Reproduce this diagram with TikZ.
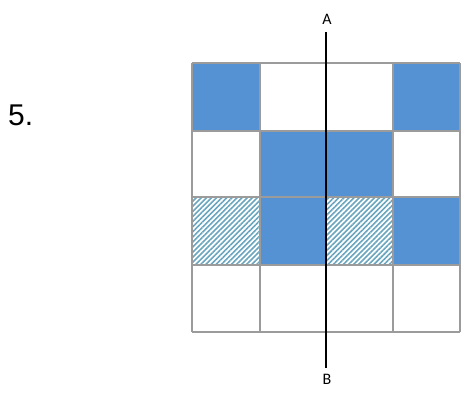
\documentclass[tikz,border=0pt]{standalone}
\usepackage{fontspec}
\setmainfont{Liberation Sans}
\newfontfamily\labfont{Carlito}
\usetikzlibrary{patterns.meta}
\definecolor{cellblue}{RGB}{84,146,212}
\definecolor{gridgray}{RGB}{155,155,155}
\definecolor{hatchcol}{RGB}{105,165,190}
\tikzset{
  bluecell/.style={fill=cellblue},
  hatchcell/.style={pattern={Lines[angle=45,distance=3.6pt,line width=1.6pt]}, pattern color=hatchcol},
  gridline/.style={draw=gridgray, line width=1.3pt},
  axisline/.style={draw=black, line width=2.7pt},
  lab/.style={font=\labfont\fontsize{16}{18}\selectfont, inner sep=0pt}
}
\begin{document}
\begin{tikzpicture}[x=1pt,y=-1pt]
\useasboundingbox (0,0) rectangle (461,394);
% column and row edges
\def\xa{192}\def\xb{260}\def\xc{326}\def\xd{393}\def\xe{460}
\def\ya{63}\def\yb{131}\def\yc{197}\def\yd{265}\def\ye{332}
% row 1
\path[bluecell] (\xa,\ya) rectangle (\xb,\yb);
\path[bluecell] (\xd,\ya) rectangle (\xe,\yb);
% row 2
\path[bluecell] (\xb,\yb) rectangle (\xd,\yc);
% row 3
\path[hatchcell] (\xa,\yc) rectangle (\xb,\yd);
\path[bluecell] (\xb,\yc) rectangle (\xc,\yd);
\path[hatchcell] (\xc,\yc) rectangle (\xd,\yd);
\path[bluecell] (\xd,\yc) rectangle (\xe,\yd);
% grid lines
\foreach \x in {\xa,\xb,\xc,\xd,\xe} \draw[gridline] (\x,\ya) -- (\x,\ye);
\foreach \y in {\ya,\yb,\yc,\yd,\ye} \draw[gridline] (\xa,\y) -- (\xe,\y);
% labels and line
\node[lab] (A) at (327,19) {A};
\node[lab] (B) at (327,379) {B};
\coordinate (top) at (326,32);
\coordinate (bot) at (326,368);
\draw[axisline] (top) -- (bot);
\node[font=\fontsize{30}{34}\selectfont, anchor=base west, inner sep=0pt] (num) at (8,125) {5.};
\end{tikzpicture}
\end{document}
